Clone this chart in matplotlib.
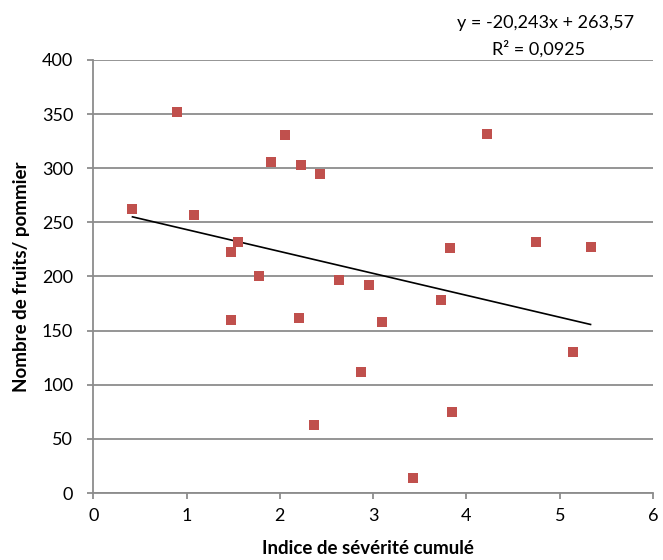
import numpy as np
import matplotlib
matplotlib.use("Agg")
import matplotlib.pyplot as plt

plt.rcParams["font.family"] = ["Lato", "DejaVu Sans"]

# indice de sévérité cumulé / nombre de fruits par pommier
severite = [0.42, 0.90, 1.08, 1.48, 1.55, 1.78, 1.90, 2.05, 2.23, 2.43,
            3.82, 4.22, 4.75, 5.33, 1.48, 2.20, 2.63, 2.95, 3.09, 3.73,
            5.14, 2.87, 2.37, 3.85, 3.43]
fruits = [262, 352, 257, 223, 232, 200, 306, 331, 303, 295,
          226, 332, 232, 227, 160, 162, 197, 192, 158, 178,
          130, 112, 63, 75, 14]

# courbe de tendance (Excel)
pente = -20.243
ordonnee = 263.57
r2 = 0.0925

x_ticks = [0, 1, 2, 3, 4, 5, 6]
y_ticks = [0, 50, 100, 150, 200, 250, 300, 350, 400]

gris = "#8c8c8c"
W, H = 663, 560

fig = plt.figure(figsize=(6.63, 5.60), dpi=100)
ax = fig.add_axes([0.1407, 0.1196, 0.8443, 0.7734])

ax.scatter(severite, fruits, marker="s", s=45, color="#c0504d", zorder=3, linewidths=0)

xs = np.array([min(severite), max(severite)])
ax.plot(xs, pente * xs + ordonnee, color="black", linewidth=1.2, zorder=2)

ax.set_xlim(0, 6)
ax.set_ylim(0, 400)
ax.set_xticks(x_ticks)
ax.set_yticks(y_ticks)
ax.yaxis.grid(True, color=gris, linewidth=1.3)
ax.set_axisbelow(True)

for s in ["top", "right"]:
    ax.spines[s].set_visible(False)
for s in ["left", "bottom"]:
    ax.spines[s].set_color(gris)
    ax.spines[s].set_linewidth(1.3)
ax.tick_params(axis="both", colors=gris, length=4.5, width=1.3, labelsize=13,
               labelcolor="black")
ax.tick_params(axis="x", pad=6)
ax.tick_params(axis="y", pad=10)

# titres des axes, placés en pixels
fig.text(368 / W, 1 - 549 / H, "Indice de sévérité cumulé", ha="center", va="center",
         fontsize=13.5, fontweight="bold")
fig.text(22 / W, 1 - 277 / H, "Nombre de fruits/ pommier", ha="center", va="center",
         rotation=90, fontsize=13.5, fontweight="bold")

eq = f"y = {pente:.3f}x + {ordonnee:.2f}".replace(".", ",")
fig.text(546 / W, 1 - 28 / H, eq, ha="center", va="baseline", fontsize=13)
fig.text(539 / W, 1 - 55 / H, f"R² = {r2:.4f}".replace(".", ","),
         ha="center", va="baseline", fontsize=13)

fig.savefig("out.png", dpi=100)
